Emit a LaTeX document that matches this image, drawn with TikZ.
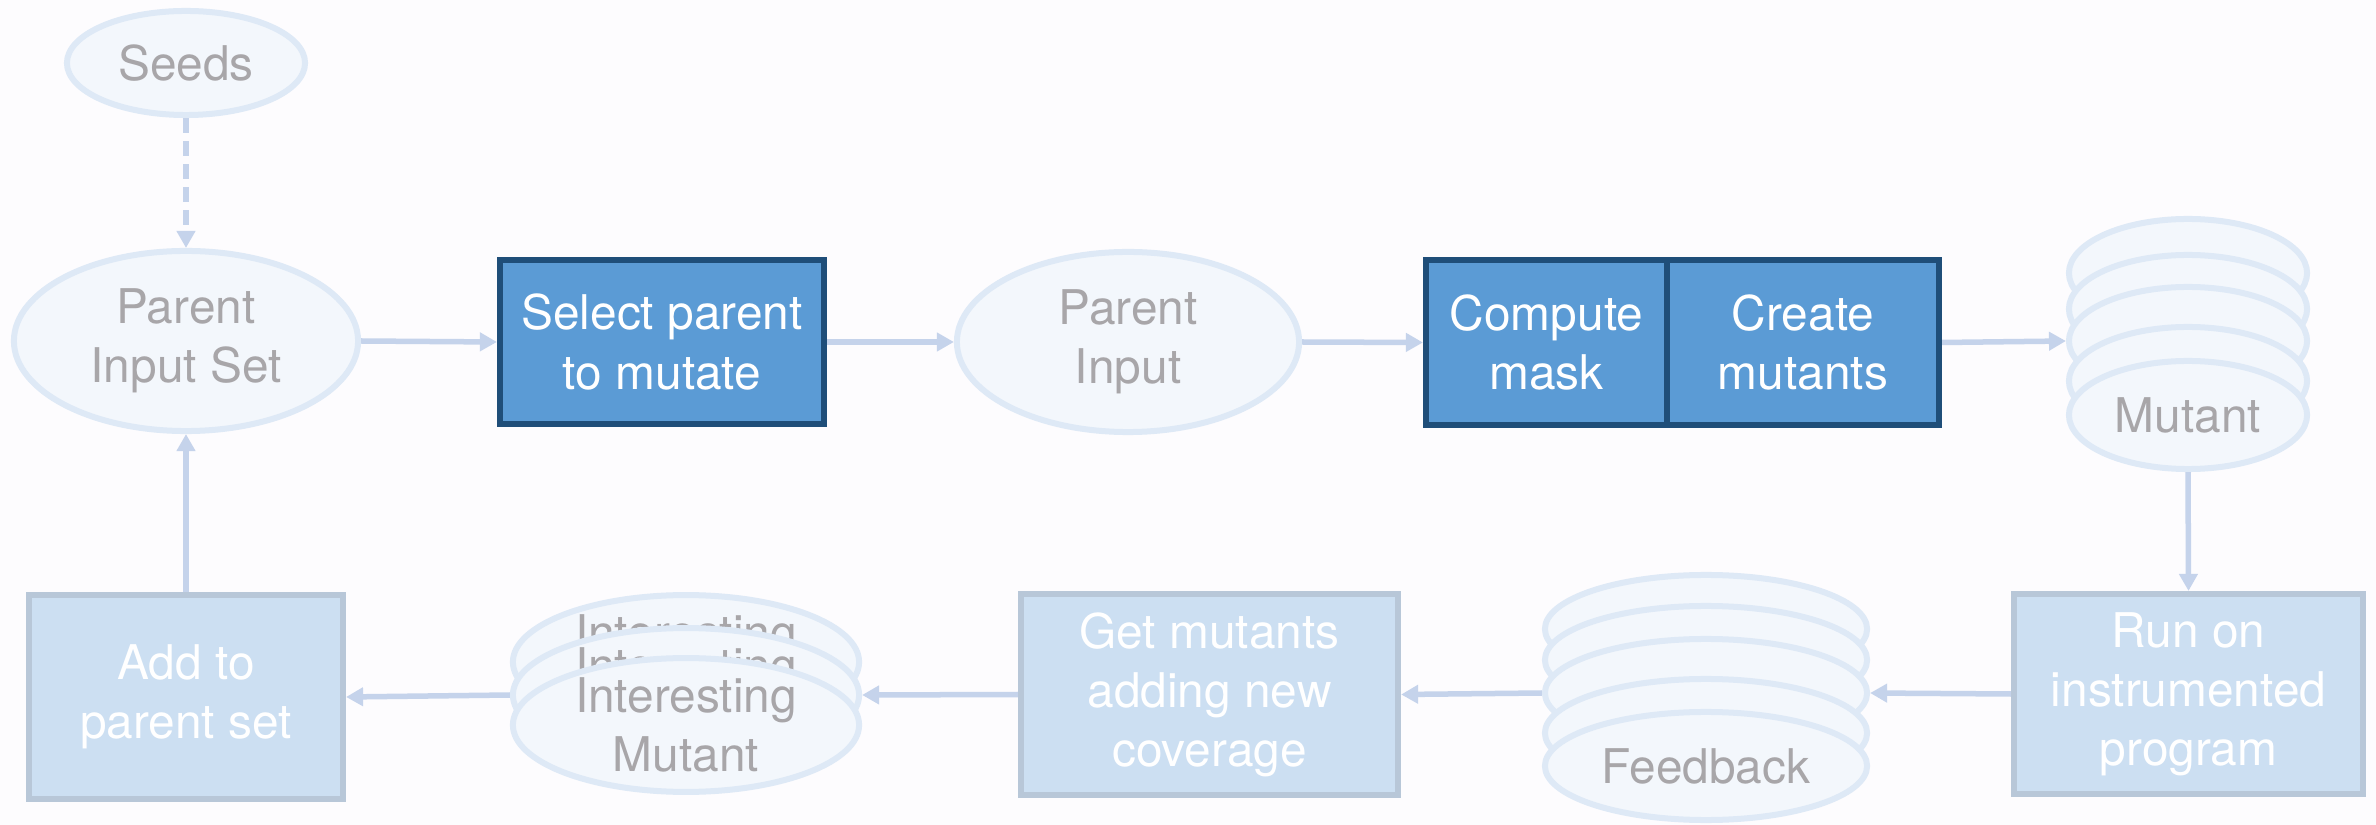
\documentclass[tikz,border=0pt]{standalone}
\usepackage{fontspec}
\setmainfont{TeX Gyre Heros}
\usetikzlibrary{shapes.geometric,arrows.meta}
\definecolor{bgc}{HTML}{FDFCFE}
\definecolor{ellFill}{HTML}{F3F7FC}
\definecolor{ellStroke}{HTML}{DEE9F6}
\definecolor{txtGray}{HTML}{A8A6A9}
\definecolor{arrowc}{HTML}{C5D3EB}
\definecolor{darkFill}{HTML}{5B9BD5}
\definecolor{darkStroke}{HTML}{1F4E79}
\definecolor{lightFill}{HTML}{CCDFF2}
\definecolor{lightStroke}{HTML}{B8C7D8}
\tikzset{
  ell/.style={ellipse, draw=ellStroke, fill=ellFill, line width=0.06cm, text=txtGray, inner sep=0pt, align=center},
  darkbox/.style={rectangle, draw=darkStroke, fill=darkFill, line width=0.06cm, text=white, inner sep=0pt, align=center},
  lightbox/.style={rectangle, draw=lightStroke, fill=lightFill, line width=0.06cm, text=white, inner sep=0pt, align=center},
  conn/.style={draw=arrowc, line width=0.055cm, -{Triangle[length=0.17cm,width=0.18cm]}},
}
\begin{document}
\begin{tikzpicture}[x=0.01cm, y=-0.01cm, font=\fontsize{13.6}{16.8}\selectfont]
\useasboundingbox (0,0) rectangle (2376,825);
\fill[bgc] (0,0) rectangle (2376,825);

% top row
\node[ell, minimum width=2.38cm, minimum height=1.04cm] (seeds) at (186,63) {Seeds};
\node[ell, minimum width=3.44cm, minimum height=1.80cm] (pset) at (186,341) {Parent\\Input Set};
\node[darkbox, minimum width=3.24cm, minimum height=1.64cm] (select) at (662,342) {Select parent\\to mutate};
\node[ell, minimum width=3.42cm, minimum height=1.80cm] (pin) at (1128,342) {Parent\\Input};
\node[darkbox, minimum width=2.41cm, minimum height=1.65cm] (compute) at (1546.5,342.5) {Compute\\mask};
\node[darkbox, minimum width=2.72cm, minimum height=1.65cm] (create) at (1803,342.5) {Create\\mutants};

% mutant stack
\node[ell, minimum width=2.38cm, minimum height=1.08cm] (m1) at (2188,273) {};
\node[ell, minimum width=2.38cm, minimum height=1.08cm] (m2) at (2188,309) {};
\node[ell, minimum width=2.38cm, minimum height=1.08cm] (m3) at (2188,341) {};
\node[ell, minimum width=2.38cm, minimum height=1.08cm] (m4) at (2188,381) {};
\node[ell, minimum width=2.38cm, minimum height=1.08cm] (m5) at (2188,415) {Mutant};

% bottom row
\node[lightbox, minimum width=3.49cm, minimum height=2.00cm] (run) at (2188.5,694) {Run on\\instrumented\\program};

\node[ell, minimum width=3.22cm, minimum height=1.08cm] (f1) at (1706,629) {};
\node[ell, minimum width=3.22cm, minimum height=1.08cm] (f2) at (1706,660) {};
\node[ell, minimum width=3.22cm, minimum height=1.08cm] (f3) at (1706,693) {};
\node[ell, minimum width=3.22cm, minimum height=1.08cm] (f4) at (1706,733) {};
\node[ell, minimum width=3.22cm, minimum height=1.08cm] (f5) at (1706,766) {Feedback};

\node[lightbox, minimum width=3.77cm, minimum height=2.01cm] (get) at (1209.5,694.5) {Get mutants\\adding new\\coverage};

\node[ell, minimum width=3.46cm, minimum height=1.30cm] (i1) at (686,662) {Interesting\\Mutant};
\node[ell, minimum width=3.46cm, minimum height=1.30cm] (i2) at (686,695) {Interesting\\Mutant};
\node[ell, minimum width=3.46cm, minimum height=1.30cm] (i3) at (686,725) {Interesting\\Mutant};

\node[lightbox, minimum width=3.14cm, minimum height=2.04cm] (add) at (186,697) {Add to\\parent set};

% connectors
\draw[conn, dash pattern=on 0.15cm off 0.08cm] (seeds) -- (pset);
\draw[conn] (pset.east) -- (select.west);
\draw[conn] (select.east) -- (pin.west);
\draw[conn] (pin.east) -- (compute.west);
\draw[conn] (create.east) -- (m3.west);
\draw[conn] (m5.south) -- (run.north);
\draw[conn] (run.west) -- (f3.east);
\draw[conn] (f3.west) -- (get.east);
\draw[conn] (get.west) -- (i2.east);
\draw[conn] (i2.west) -- (add.east);
\draw[conn] (add.north) -- (pset.south);
\end{tikzpicture}
\end{document}
